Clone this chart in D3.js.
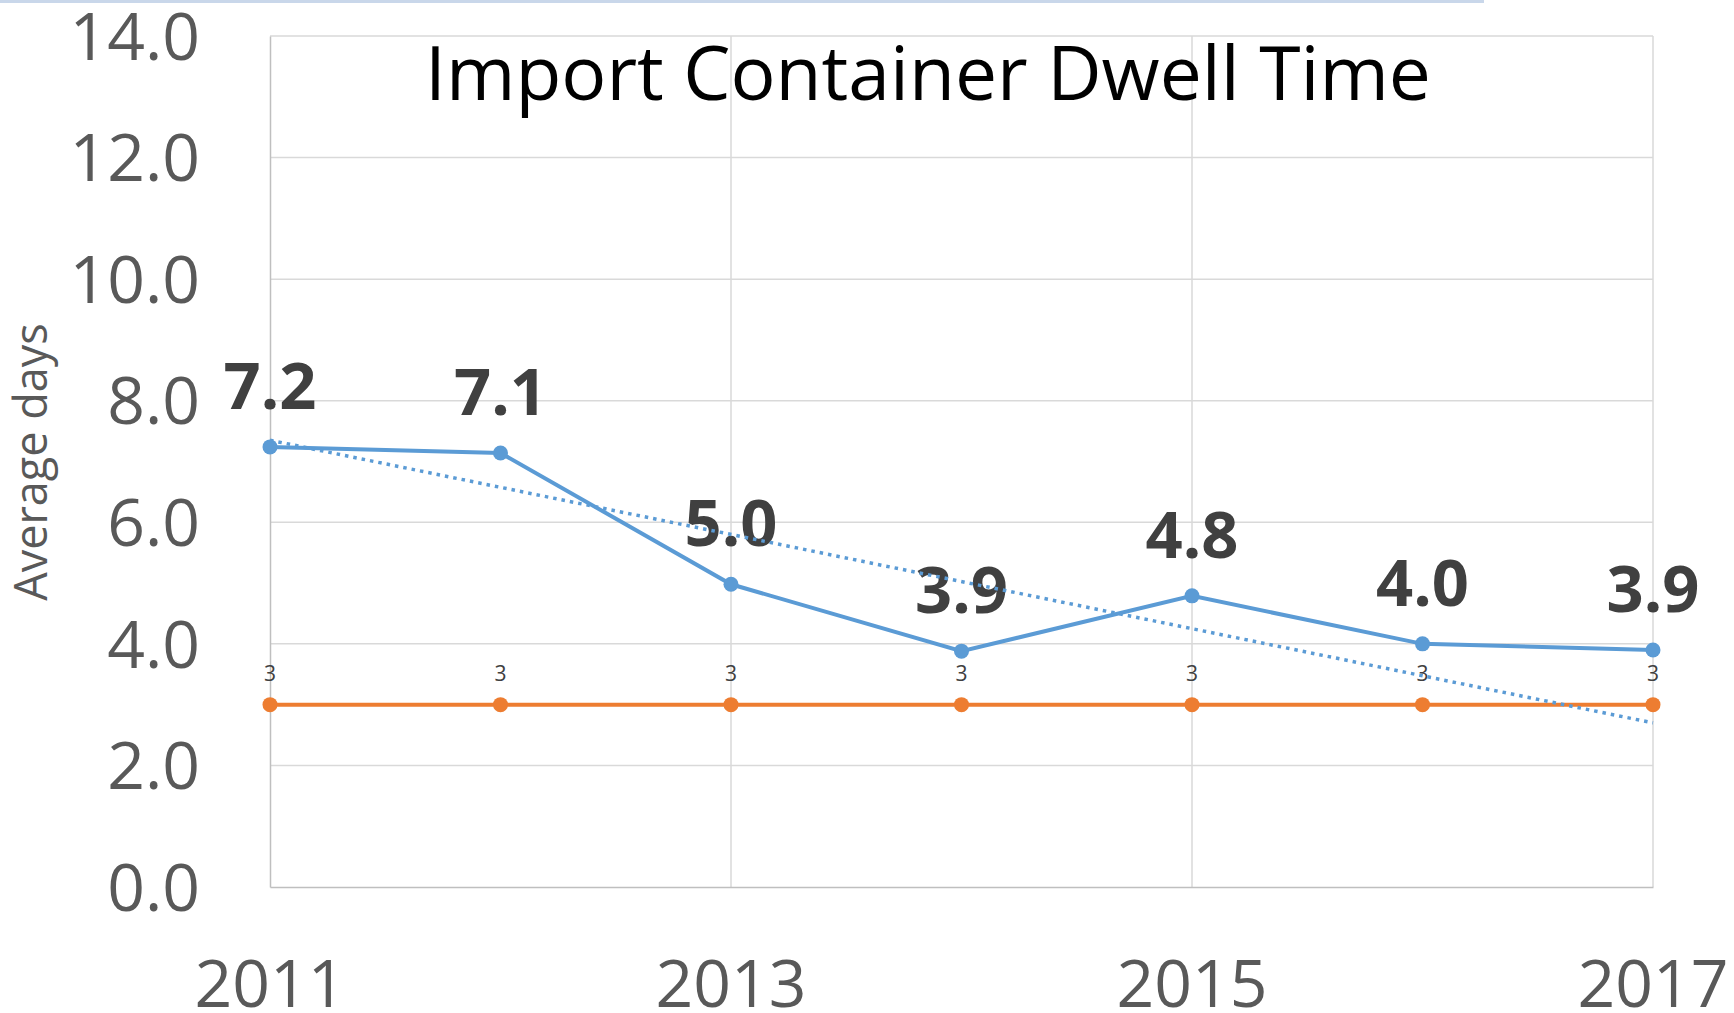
<!DOCTYPE html>
<html><head><meta charset="utf-8">
<script src="https://cdn.jsdelivr.net/npm/d3@7"></script>
<style>body{margin:0;background:#fff;} svg{display:block;font-family:"Open Sans",sans-serif;}</style>
</head><body>
<svg id="chart" width="1734" height="1013"></svg>
<script>
// ---- data ----
const years = [2011, 2012, 2013, 2014, 2015, 2016, 2017];
const dwellDays = [7.24, 7.14, 4.98, 3.88, 4.79, 4.0, 3.9];
const targetDays = [3, 3, 3, 3, 3, 3, 3];
const trendYears = [2011, 2017];
const trendDays = [7.35, 2.70];
const yTicks = [0, 2, 4, 6, 8, 10, 12, 14];
const xTicks = [2011, 2013, 2015, 2017];
const titleText = "Import Container Dwell Time";
const yTitleText = "Average days";

// ---- layout ----
const svg = d3.select("#chart");
const L = 270, R = 1653, T = 36, B = 887;
const x = d3.scaleLinear().domain([2011, 2017]).range([L, R]);
const y = d3.scaleLinear().domain([0, 14]).range([B, T]);

// top decorative band
svg.append("rect").attr("x", 0).attr("y", 0).attr("width", 1484).attr("height", 3).attr("fill", "#c9d7ea");

// gridlines
svg.append("g").selectAll("line").data(yTicks.filter(d => d > 0)).join("line")
  .attr("x1", L).attr("x2", R).attr("y1", d => y(d)).attr("y2", d => y(d))
  .attr("stroke", "#d9d9d9").attr("stroke-width", 1.5);
svg.append("g").selectAll("line").data(xTicks.filter(d => d > 2011)).join("line")
  .attr("x1", d => x(d)).attr("x2", d => x(d)).attr("y1", T).attr("y2", B)
  .attr("stroke", "#d9d9d9").attr("stroke-width", 1.5);

// axes lines (drawn with d3 axes, labels drawn separately)
const yAxis = svg.append("g").attr("transform", `translate(${L},0)`)
  .call(d3.axisLeft(y).tickValues(yTicks).tickFormat("").tickSize(0));
yAxis.select(".domain").attr("stroke", "#bfbfbf").attr("stroke-width", 1.5);
const xAxis = svg.append("g").attr("transform", `translate(0,${B})`)
  .call(d3.axisBottom(x).tickValues(xTicks).tickFormat("").tickSize(0));
xAxis.select(".domain").attr("stroke", "#bfbfbf").attr("stroke-width", 1.5);

// tick labels
svg.append("g").selectAll("text").data(yTicks).join("text")
  .attr("x", L - 70).attr("y", d => y(d)).attr("dy", "0.36em").attr("text-anchor", "end")
  .attr("font-size", 66).attr("fill", "#595959").text(d3.format(".1f"));
svg.append("g").selectAll("text").data(xTicks).join("text")
  .attr("x", d => x(d)).attr("y", 1007).attr("text-anchor", "middle")
  .attr("font-size", 66).attr("fill", "#595959").text(d3.format("d"));

// y title
svg.append("text").attr("transform", `translate(47,462) rotate(-90)`)
  .attr("text-anchor", "middle").attr("font-size", 45).attr("fill", "#595959").text(yTitleText);

// title
svg.append("text").attr("x", 928).attr("y", 100).attr("text-anchor", "middle")
  .attr("font-size", 75).attr("fill", "#000").text(titleText);

// series
const line = d3.line().x(d => x(d[0])).y(d => y(d[1]));
const target = years.map((yr, i) => [yr, targetDays[i]]);
const dwell = years.map((yr, i) => [yr, dwellDays[i]]);

svg.append("path").datum(target).attr("d", line).attr("fill", "none")
  .attr("stroke", "#ed7d31").attr("stroke-width", 4);
svg.append("path").datum(dwell).attr("d", line).attr("fill", "none")
  .attr("stroke", "#5b9bd5").attr("stroke-width", 4);

svg.append("g").selectAll("circle").data(target).join("circle")
  .attr("cx", d => x(d[0])).attr("cy", d => y(d[1])).attr("r", 7.5).attr("fill", "#ed7d31");
svg.append("g").selectAll("circle").data(dwell).join("circle")
  .attr("cx", d => x(d[0])).attr("cy", d => y(d[1])).attr("r", 7.5).attr("fill", "#5b9bd5");

// labels
svg.append("g").selectAll("text").data(dwell).join("text")
  .attr("x", d => x(d[0])).attr("y", d => y(d[1]) - 38).attr("text-anchor", "middle")
  .attr("font-size", 65).attr("font-weight", 700).attr("fill", "#404040")
  .text(d => d3.format(".1f")(d[1]));
svg.append("g").selectAll("text").data(target).join("text")
  .attr("x", d => x(d[0])).attr("y", d => y(d[1]) - 24).attr("text-anchor", "middle")
  .attr("font-size", 21).attr("fill", "#404040")
  .text(d => d[1]);

// trendline
const trend = trendYears.map((yr, i) => [yr, trendDays[i]]);
svg.append("path").datum(trend).attr("d", line).attr("fill", "none")
  .attr("stroke", "#5b9bd5").attr("stroke-width", 3.5).attr("stroke-dasharray", "3.5 5");
</script>
</body></html>
